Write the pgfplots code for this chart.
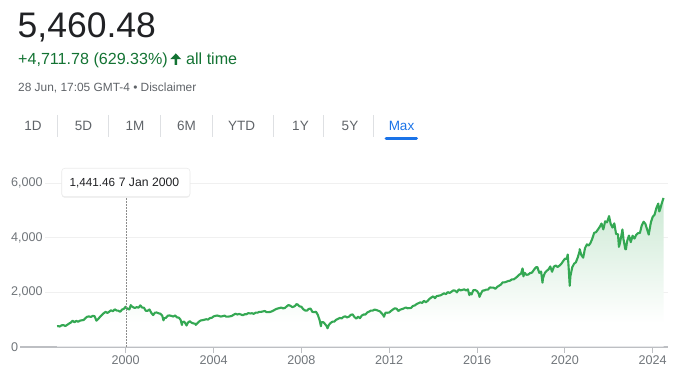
\documentclass[border=0pt]{standalone}
\usepackage{pgfplots}
\pgfplotsset{compat=1.18}
\usepackage{pgfplotstable}
\usepackage{fontspec}
\setmainfont{Liberation Sans}
\usetikzlibrary{shadows}
\definecolor{linegreen}{RGB}{52,168,83}
\definecolor{textgreen}{RGB}{19,115,51}
\definecolor{darktext}{RGB}{32,33,36}
\definecolor{greytext}{RGB}{95,99,104}
\definecolor{ticktext}{RGB}{112,117,122}
\definecolor{gridc}{RGB}{240,240,240}
\definecolor{basec}{RGB}{189,191,195}
\definecolor{sepc}{RGB}{222,224,227}
\definecolor{gblue}{RGB}{26,115,232}
\definecolor{fillg}{RGB}{204,233,212}
\pgfdeclareverticalshading{areafade}{100bp}{color(0bp)=(white); color(33bp)=(white); color(75bp)=(fillg); color(100bp)=(fillg)}

\pgfplotstableread{
t v
1996.880 748.70
1996.917 757.02
1997.000 740.74
1997.083 786.16
1997.167 790.82
1997.250 757.12
1997.333 801.34
1997.417 848.28
1997.500 885.14
1997.583 954.31
1997.667 899.47
1997.750 947.28
1997.833 914.62
1997.917 955.40
1998.000 970.43
1998.083 980.28
1998.167 1049.34
1998.250 1101.75
1998.333 1111.75
1998.417 1090.82
1998.500 1133.84
1998.583 1120.67
1998.667 957.28
1998.750 1017.01
1998.833 1098.67
1998.917 1163.63
1999.000 1229.23
1999.083 1279.64
1999.167 1238.33
1999.250 1286.37
1999.333 1335.18
1999.417 1301.84
1999.500 1372.71
1999.583 1328.72
1999.667 1320.41
1999.750 1282.71
1999.833 1362.93
1999.917 1388.91
2000.000 1469.25
2000.018 1441.46
2000.083 1394.46
2000.167 1366.42
2000.230 1527.46
2000.250 1498.58
2000.333 1452.43
2000.417 1420.60
2000.500 1454.60
2000.583 1430.83
2000.667 1517.68
2000.750 1436.51
2000.833 1429.40
2000.917 1314.95
2001.000 1320.28
2001.083 1366.01
2001.167 1239.94
2001.250 1160.33
2001.333 1249.46
2001.417 1255.82
2001.500 1224.38
2001.583 1211.23
2001.667 1133.58
2001.720 965.80
2001.750 1040.94
2001.833 1059.78
2001.917 1139.45
2002.000 1148.08
2002.083 1130.20
2002.167 1106.73
2002.250 1147.39
2002.333 1076.92
2002.417 1067.14
2002.500 989.82
2002.560 797.70
2002.583 911.62
2002.667 916.07
2002.750 815.28
2002.770 776.76
2002.833 885.76
2002.917 936.31
2003.000 879.82
2003.083 855.70
2003.167 841.15
2003.190 800.73
2003.250 848.18
2003.333 916.92
2003.417 963.59
2003.500 974.50
2003.583 990.31
2003.667 1008.01
2003.750 995.97
2003.833 1050.71
2003.917 1058.20
2004.000 1111.92
2004.083 1131.13
2004.167 1144.94
2004.250 1126.21
2004.333 1107.30
2004.417 1120.68
2004.500 1140.84
2004.583 1101.72
2004.667 1104.24
2004.750 1114.58
2004.833 1130.20
2004.917 1173.82
2005.000 1211.92
2005.083 1181.27
2005.167 1203.60
2005.250 1180.59
2005.333 1156.85
2005.417 1191.50
2005.500 1191.33
2005.583 1234.18
2005.667 1220.33
2005.750 1228.81
2005.833 1207.01
2005.917 1249.48
2006.000 1248.29
2006.083 1280.08
2006.167 1280.66
2006.250 1294.83
2006.333 1310.61
2006.417 1270.09
2006.500 1270.20
2006.583 1276.66
2006.667 1303.82
2006.750 1335.85
2006.833 1377.94
2006.917 1400.63
2007.000 1418.30
2007.083 1438.24
2007.167 1406.82
2007.250 1420.86
2007.333 1482.37
2007.417 1530.62
2007.500 1503.35
2007.583 1455.27
2007.667 1473.99
2007.750 1526.75
2007.770 1565.15
2007.833 1549.38
2007.917 1481.14
2008.000 1468.36
2008.083 1378.55
2008.167 1330.63
2008.250 1322.70
2008.333 1385.59
2008.417 1400.38
2008.500 1280.00
2008.583 1267.38
2008.667 1282.83
2008.750 1166.36
2008.833 968.75
2008.890 752.44
2008.917 896.24
2009.000 903.25
2009.083 825.88
2009.167 735.09
2009.190 676.53
2009.250 797.87
2009.333 872.81
2009.417 919.14
2009.500 919.32
2009.583 987.48
2009.667 1020.62
2009.750 1057.08
2009.833 1036.19
2009.917 1095.63
2010.000 1115.10
2010.083 1073.87
2010.167 1104.49
2010.250 1169.43
2010.333 1186.69
2010.417 1089.41
2010.500 1030.71
2010.583 1101.60
2010.667 1049.33
2010.750 1141.20
2010.833 1183.26
2010.917 1180.55
2011.000 1257.64
2011.083 1286.12
2011.167 1327.22
2011.250 1325.83
2011.333 1363.61
2011.417 1345.20
2011.500 1320.64
2011.583 1292.28
2011.667 1218.89
2011.750 1131.42
2011.760 1099.23
2011.833 1253.30
2011.917 1246.96
2012.000 1257.60
2012.083 1312.41
2012.167 1365.68
2012.250 1408.47
2012.333 1397.91
2012.417 1310.33
2012.500 1362.16
2012.583 1379.32
2012.667 1406.58
2012.750 1440.67
2012.833 1412.16
2012.917 1416.18
2013.000 1426.19
2013.083 1498.11
2013.167 1514.68
2013.250 1569.19
2013.333 1597.57
2013.417 1630.74
2013.500 1606.28
2013.583 1685.73
2013.667 1632.97
2013.750 1681.55
2013.833 1756.54
2013.917 1805.81
2014.000 1848.36
2014.083 1782.59
2014.167 1859.45
2014.250 1872.34
2014.333 1883.95
2014.417 1923.57
2014.500 1960.23
2014.583 1930.67
2014.667 2003.37
2014.750 1972.29
2014.833 2018.05
2014.917 2067.56
2015.000 2058.90
2015.083 1994.99
2015.167 2104.50
2015.250 2067.89
2015.333 2085.51
2015.417 2107.39
2015.500 2063.11
2015.583 2103.84
2015.650 1893.21
2015.667 1972.18
2015.750 1920.03
2015.833 2079.36
2015.917 2080.41
2016.000 2043.94
2016.083 1940.24
2016.110 1829.08
2016.167 1932.23
2016.250 2059.74
2016.333 2065.30
2016.417 2096.96
2016.500 2098.86
2016.583 2173.60
2016.667 2170.95
2016.750 2168.27
2016.833 2126.15
2016.917 2198.81
2017.000 2238.83
2017.083 2278.87
2017.167 2363.64
2017.250 2362.72
2017.333 2384.20
2017.417 2411.80
2017.500 2423.41
2017.583 2470.30
2017.667 2471.65
2017.750 2519.36
2017.833 2575.26
2017.917 2647.58
2018.000 2673.61
2018.070 2872.87
2018.083 2823.81
2018.110 2581.00
2018.167 2713.83
2018.250 2640.87
2018.333 2648.05
2018.417 2705.27
2018.500 2718.37
2018.583 2816.29
2018.667 2901.52
2018.720 2930.75
2018.750 2913.98
2018.833 2711.74
2018.917 2760.17
2018.980 2351.10
2019.000 2506.85
2019.083 2704.10
2019.167 2784.49
2019.250 2834.40
2019.333 2945.83
2019.417 2752.06
2019.500 2941.76
2019.583 2980.38
2019.667 2926.46
2019.750 2976.74
2019.833 3037.56
2019.917 3140.98
2020.000 3230.78
2020.083 3225.52
2020.130 3386.15
2020.167 2954.22
2020.220 2237.40
2020.250 2584.59
2020.333 2912.43
2020.417 3044.31
2020.500 3100.29
2020.583 3271.12
2020.667 3500.31
2020.672 3580.84
2020.750 3363.00
2020.833 3269.96
2020.917 3621.63
2021.000 3756.07
2021.083 3714.24
2021.167 3811.15
2021.250 3972.89
2021.333 4181.17
2021.417 4204.11
2021.500 4297.50
2021.583 4395.26
2021.667 4522.68
2021.750 4307.54
2021.833 4605.38
2021.917 4567.00
2022.000 4766.18
2022.010 4796.56
2022.083 4515.55
2022.167 4373.94
2022.250 4530.41
2022.333 4131.93
2022.417 4132.15
2022.460 3666.77
2022.500 3785.38
2022.583 4130.29
2022.620 4305.20
2022.667 3955.00
2022.750 3585.62
2022.780 3577.03
2022.833 3871.98
2022.917 4080.11
2023.000 3839.50
2023.083 4076.60
2023.167 3970.15
2023.250 4109.31
2023.333 4169.48
2023.417 4179.83
2023.500 4450.38
2023.583 4588.96
2023.667 4507.66
2023.750 4288.05
2023.820 4117.37
2023.833 4193.80
2023.917 4567.80
2024.000 4769.83
2024.083 4845.65
2024.167 5096.27
2024.250 5254.35
2024.300 4967.23
2024.333 5035.69
2024.417 5277.51
2024.490 5460.48
}\spx

\begin{document}
\begin{tikzpicture}[x=1pt,y=1pt]
\useasboundingbox (0,0) rectangle (683,377);
% header
\node[anchor=base west,inner sep=0,text=darktext,font=\fontsize{35.5}{40}\selectfont] at (17.5,{377-38}) {5,460.48};
\node[anchor=base west,inner sep=0,text=textgreen,font=\fontsize{16.1}{19}\selectfont] at (18,{377-65}) {+4,711.78 (629.33\%)};
\fill[textgreen] (170.3,{377-59.2}) -- (175.8,{377-53.4}) -- (181.3,{377-59.2}) -- (177.1,{377-59.2}) -- (177.1,{377-65}) -- (174.5,{377-65}) -- (174.5,{377-59.2}) -- cycle;
\node[anchor=base west,inner sep=0,text=textgreen,font=\fontsize{16.1}{19}\selectfont] at (186,{377-65}) {all time};
\node[anchor=base west,inner sep=0,text=greytext,font=\fontsize{11.9}{14}\selectfont] at (18,{377-92}) {28 Jun, 17:05 GMT-4 • Disclaimer};
% range buttons
\foreach \xx/\lab in {33/1D,83.5/5D,135/1M,186.5/6M,241.5/YTD,300.5/1Y,350/5Y}{
  \node[anchor=base,inner sep=0,text=greytext,font=\fontsize{13.5}{16}\selectfont] at (\xx,{377-131}) {\lab};
}
\node[anchor=base,inner sep=0,text=gblue,font=\fontsize{13.5}{16}\selectfont] at (401.5,{377-131}) {Max};
\foreach \xx in {57,108,160,212,273,323,373}{
  \draw[sepc,line width=1] (\xx,{377-115}) -- (\xx,{377-137});
}
\draw[gblue,line width=3,line cap=round] (386,{377-138.5}) -- (416.5,{377-138.5});
% chart
\begin{axis}[
  at={(15pt,30.3pt)}, anchor=south west,
  scale only axis, width=653pt, height=163.4pt,
  xmin=1994.959, xmax=2024.695, ymin=0, ymax=6000,
  clip=false,
  axis x line*=bottom, axis y line*=left,
  y axis line style={draw=none},
  x axis line style={basec,line width=2pt},
  xtick={2000,2004,2008,2012,2016,2020,2024},
  xticklabels={2000,2004,2008,2012,2016,2020,2024},
  ytick={0,2000,4000,6000},
  yticklabels={0,{2,000},{4,000},{6,000}},
  tick align=outside, major tick length=6pt,
  xtick style={basec,line width=1pt},
  ytick style={draw=none},
  ymajorgrids, grid style={gridc,line width=1pt},
  xticklabel style={text=ticktext,font=\fontsize{12.6}{14}\selectfont,inner sep=0,anchor=north,yshift=-2.5pt},
  yticklabel style={text=ticktext,font=\fontsize{12.6}{14}\selectfont,anchor=west,fill=white,inner xsep=2pt,inner ysep=1pt},
]
\addplot[draw=none,shade,shading=areafade] table[x=t,y=v] {\spx} \closedcycle;
\addplot[linegreen,line width=2.1pt,line join=round,no marks] table[x=t,y=v] {\spx};
\draw[color=black!45,line width=0.8pt,dash pattern=on 1.5pt off 1.5pt] (axis cs:2000.02,0) -- (axis cs:2000.02,5497);
\end{axis}
% tooltip
\fill[white,rounded corners=3pt,drop shadow={opacity=0.18,shadow xshift=0pt,shadow yshift=-1pt}] (61.7,{377-196.7}) rectangle (190,{377-168.3});
\draw[black!8,rounded corners=3pt,line width=0.6pt] (61.7,{377-196.7}) rectangle (190,{377-168.3});
\node[anchor=base west,inner sep=0,text=darktext,font=\fontsize{11.7}{14}\selectfont] at (69.3,{377-186.7}) {1,441.46};
\node[anchor=base west,inner sep=0,text=darktext,font=\fontsize{12.2}{14}\selectfont] at (118.6,{377-186.7}) {7 Jan 2000};
\end{tikzpicture}
\end{document}
